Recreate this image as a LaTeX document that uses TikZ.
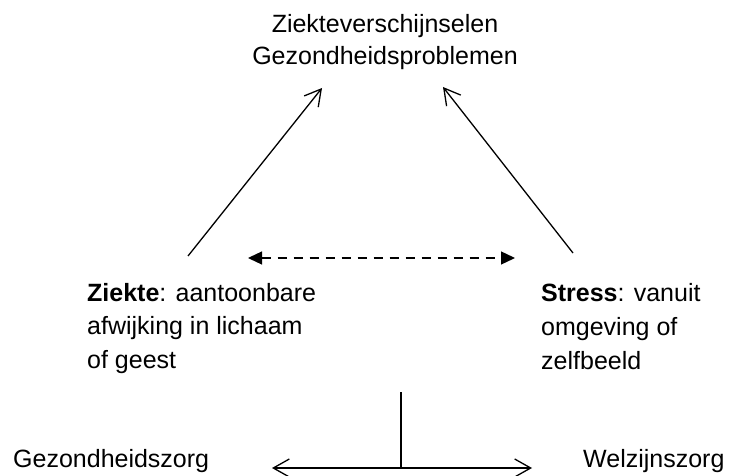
\documentclass[tikz,border=0pt]{standalone}
\usepackage{fontspec}
\setmainfont{Liberation Sans}
\usetikzlibrary{arrows.meta}
\begin{document}
\begin{tikzpicture}[x=1pt,y=-1pt,
  txt/.style={inner sep=0pt,font=\fontsize{25pt}{33pt}\selectfont},
  barb/.style={line width=1.3pt,-{Straight Barb[length=16pt,width=18pt]}},
  barbs/.style={line width=1.3pt,{Straight Barb[length=16pt,width=18pt]}-{Straight Barb[length=16pt,width=18pt]}},
  dashline/.style={line width=1.3pt,dash pattern=on 9pt off 7pt,{Triangle[length=14pt,width=13pt]}-{Triangle[length=14pt,width=13pt]}},
  plain/.style={line width=1.3pt}]
\useasboundingbox (0,0) rectangle (734,476);
% texts
\node[txt,anchor=base] (top) at (385,33)
  {\vtop{\baselineskip=32pt\halign{\hfil#\hfil\cr Ziekteverschijnselen\cr Gezondheidsproblemen\cr}}};
\node[txt,anchor=base west] (ziekte) at (87,301)
  {\vtop{\baselineskip=33.5pt\hbox{\textbf{Ziekte}: aantoonbare}\hbox{afwijking in lichaam}\hbox{of geest}}};
\node[txt,anchor=base west] (stress) at (541,301)
  {\vtop{\baselineskip=34pt\hbox{\textbf{Stress}: vanuit}\hbox{omgeving of}\hbox{zelfbeeld}}};
\node[txt,anchor=base west] (gz) at (13,467) {Gezondheidszorg};
\node[txt,anchor=base west] (wz) at (583,467) {Welzijnszorg};
% connector end points
\coordinate (zs) at (188,256);
\coordinate (ze) at (322,88);
\coordinate (ss) at (573,253);
\coordinate (se) at (443,87);
\coordinate (dl) at (248,258);
\coordinate (dr) at (515,258);
\coordinate (vt) at (401,392);
\coordinate (vb) at (401,468);
\coordinate (hl) at (272,468);
\coordinate (hr) at (532,468);
% connectors
\draw[barb] (zs) -- (ze);
\draw[barb] (ss) -- (se);
\draw[dashline] (dl) -- (dr);
\draw[barbs] (hl) -- (hr);
\draw[plain] (vt) -- (vb);
\end{tikzpicture}
\end{document}
